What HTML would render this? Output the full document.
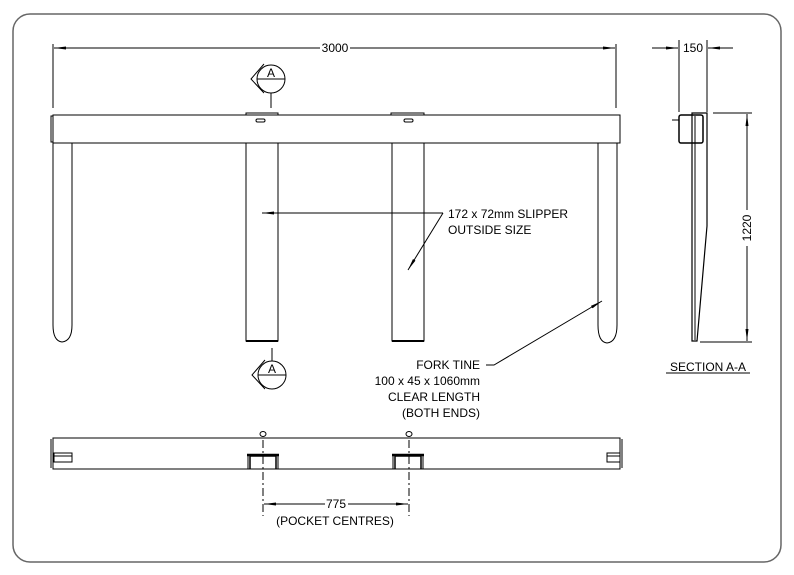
<!DOCTYPE html>
<html><head><style>
html,body{margin:0;padding:0;background:#fff;}
svg{display:block;}
text{font-family:"Liberation Sans",sans-serif;font-size:12px;fill:#000;}
</style></head><body>
<svg width="794" height="575" viewBox="0 0 794 575" xmlns="http://www.w3.org/2000/svg">
<defs>
<marker id="ar" markerWidth="12" markerHeight="6" refX="12" refY="3" orient="auto" markerUnits="userSpaceOnUse">
<path d="M0,1.5 L12,3 L0,4.5 Z" fill="#000"/></marker>
</defs>
<rect x="13" y="14" width="768" height="548" rx="17" fill="none" stroke="#666" stroke-width="1.5"/>
<g stroke="#000" stroke-width="1" fill="none">
<line x1="53" y1="44" x2="53" y2="108"/>
<line x1="616" y1="44" x2="616" y2="108"/>
<line x1="320" y1="48" x2="54" y2="48" marker-end="url(#ar)"/>
<line x1="350" y1="48" x2="615" y2="48" marker-end="url(#ar)"/>
<rect x="53" y="115" width="567" height="28"/>
<rect x="51" y="116" width="2" height="26"/>
<rect x="246" y="113" width="32" height="2"/>
<rect x="391" y="113" width="33" height="2"/>
<rect x="256" y="119" width="9" height="3" rx="1.5"/>
<rect x="404" y="119" width="9" height="3" rx="1.5"/>
<path d="M53,143 V325 Q53,341 62,342 Q72,341 72,325 V143"/>
<path d="M598,143 V325 Q598,342 607,343 Q617,342 617,325 V143"/>
<path d="M246,143 V341 H278 V143"/>
<path d="M392,143 V341 H424 V143"/>
<line x1="246" y1="341" x2="278" y2="341" stroke-width="2"/>
<line x1="392" y1="341" x2="424" y2="341" stroke-width="2"/>
<circle cx="271" cy="79" r="14"/>
<line x1="257" y1="79" x2="285" y2="79"/>
<path d="M264,64 L251,79 L264,93"/>
<line x1="271" y1="93" x2="271" y2="108"/>
<circle cx="272" cy="375" r="14"/>
<line x1="258" y1="375" x2="286" y2="375"/>
<path d="M265,360 L252,375 L265,389"/>
<line x1="272" y1="348" x2="272" y2="361"/>
<line x1="443" y1="213" x2="262" y2="213" marker-end="url(#ar)"/>
<line x1="443" y1="213" x2="408" y2="270" marker-end="url(#ar)"/>
<path d="M486,365 H494 L602,301" marker-end="url(#ar)"/>
<rect x="53" y="438" width="567" height="31"/>
<line x1="51" y1="439" x2="51" y2="468"/>
<line x1="622" y1="439" x2="622" y2="468"/>
<rect x="54" y="453" width="18" height="9"/>
<line x1="54" y1="456" x2="72" y2="456"/>
<rect x="607" y="453" width="13" height="9"/>
<line x1="607" y1="456" x2="620" y2="456"/>
<path d="M250,469 V456 H276 V469" stroke-width="1.5"/>
<line x1="247" y1="455" x2="279" y2="455" stroke-width="2.5"/>
<path d="M248,469 V455" /><path d="M278,469 V455"/>
<path d="M395,469 V456 H421 V469" stroke-width="1.5"/>
<line x1="392" y1="455" x2="424" y2="455" stroke-width="2.5"/>
<path d="M393,469 V455"/><path d="M423,469 V455"/>
<ellipse cx="263" cy="434" rx="3" ry="2.5"/>
<ellipse cx="409" cy="434" rx="3" ry="2.5"/>
<line x1="263" y1="440" x2="263" y2="516" stroke-dasharray="8,3,2,3"/>
<line x1="409" y1="440" x2="409" y2="516" stroke-dasharray="8,3,2,3"/>
<line x1="325" y1="504" x2="264" y2="504" marker-end="url(#ar)"/>
<line x1="348" y1="504" x2="408" y2="504" marker-end="url(#ar)"/>
<line x1="679" y1="40" x2="679" y2="112"/>
<line x1="707" y1="40" x2="707" y2="112"/>
<line x1="652" y1="48" x2="678" y2="48" marker-end="url(#ar)"/>
<line x1="733" y1="48" x2="708" y2="48" marker-end="url(#ar)"/>
<rect x="679" y="115" width="24" height="28" rx="2" stroke-width="1.5"/>
<line x1="672" y1="120" x2="679" y2="120"/>
<path d="M692,113 H707 V226 L697,341 H692 Z" stroke-width="1.2"/>
<line x1="695" y1="116" x2="695" y2="340"/>
<line x1="713" y1="113" x2="752" y2="113"/>
<line x1="700" y1="342" x2="752" y2="342"/>
<line x1="747" y1="210" x2="747" y2="114" marker-end="url(#ar)"/>
<line x1="747" y1="246" x2="747" y2="341" marker-end="url(#ar)"/>
<line x1="666" y1="373" x2="750" y2="373"/>
</g>
<text x="335" y="52" text-anchor="middle">3000</text>
<text x="271" y="77" text-anchor="middle" font-size="11">A</text>
<text x="272" y="373" text-anchor="middle" font-size="11">A</text>
<text x="448" y="218">172 x 72mm SLIPPER</text>
<text x="448" y="234">OUTSIDE SIZE</text>
<text x="480" y="369" text-anchor="end">FORK TINE</text>
<text x="480" y="385" text-anchor="end">100 x 45 x 1060mm</text>
<text x="480" y="401" text-anchor="end">CLEAR LENGTH</text>
<text x="480" y="417" text-anchor="end">(BOTH ENDS)</text>
<text x="336" y="508" text-anchor="middle">775</text>
<text x="335" y="525" text-anchor="middle">(POCKET CENTRES)</text>
<text x="693" y="52" text-anchor="middle">150</text>
<text transform="translate(751,228) rotate(-90)" text-anchor="middle">1220</text>
<text x="708" y="371" text-anchor="middle">SECTION A-A</text>
</svg>
</body></html>
